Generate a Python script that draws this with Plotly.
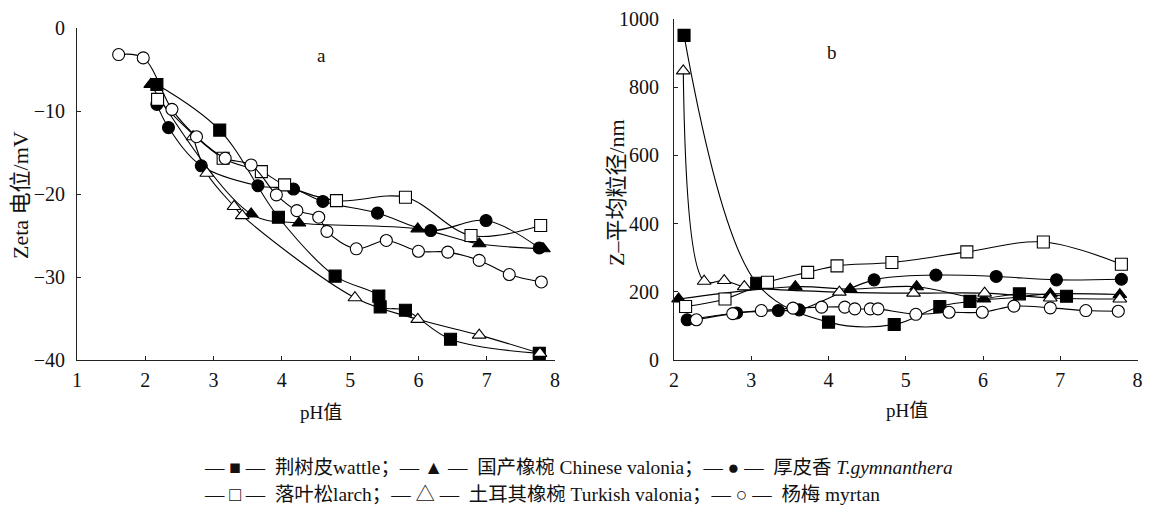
import plotly.graph_objects as go

W, H = 1151, 511
OFF = 8  # page body margin of the written HTML

# ---------- Panel a: Zeta potential (mV) vs pH ----------
a_wattle_x = [2.17, 3.09, 3.95, 4.78, 5.42, 5.44, 5.81, 6.47, 7.77]
a_wattle_y = [-6.8, -12.3, -22.8, -29.9, -32.3, -33.6, -34.0, -37.5, -39.2]
a_chinese_x = [2.08, 3.55, 4.25, 5.99, 6.89, 7.83]
a_chinese_y = [-6.8, -22.4, -23.5, -24.2, -26.0, -26.6]
a_tgym_x = [2.17, 2.34, 2.82, 3.65, 4.17, 4.60, 5.40, 6.18, 6.99, 7.77]
a_tgym_y = [-9.2, -12.0, -16.6, -19.0, -19.4, -20.9, -22.3, -24.4, -23.2, -26.5]
a_larch_x = [2.18, 3.14, 3.70, 4.04, 4.80, 5.81, 6.77, 7.79]
a_larch_y = [-8.6, -15.7, -17.3, -18.9, -20.8, -20.4, -25.0, -23.8]
a_turkish_x = [2.70, 2.90, 3.30, 3.42, 5.07, 5.99, 6.89, 7.78]
a_turkish_y = [-13.1, -17.5, -21.5, -22.6, -32.5, -35.1, -37.0, -39.2]
a_myrtan_x = [1.61, 1.97, 2.39, 2.75, 3.17, 3.55, 3.92, 4.22, 4.54, 4.66, 5.09, 5.53, 6.00, 6.43, 6.89, 7.33, 7.80]
a_myrtan_y = [-3.2, -3.6, -9.8, -13.1, -15.7, -16.5, -20.1, -22.0, -22.8, -24.5, -26.6, -25.6, -26.9, -27.0, -28.0, -29.7, -30.6]

# ---------- Panel b: Z-average particle size (nm) vs pH ----------
b_wattle_x = [2.13, 3.07, 4.00, 4.85, 5.44, 5.83, 6.47, 7.08]
b_wattle_y = [952, 225, 111, 104, 157, 172, 194, 187]
b_chinese_x = [2.06, 3.57, 4.28, 5.14, 6.01, 6.87, 7.77]
b_chinese_y = [179, 215, 208, 215, 179, 194, 192]
b_tgym_x = [2.17, 2.81, 3.35, 3.62, 4.59, 5.39, 6.17, 6.95, 7.79]
b_tgym_y = [118, 138, 145, 147, 235, 249, 245, 235, 237]
b_larch_x = [2.15, 2.66, 3.21, 3.73, 4.11, 4.82, 5.79, 6.78, 7.79]
b_larch_y = [157, 179, 228, 257, 276, 286, 317, 346, 281]
b_turkish_x = [2.12, 2.39, 2.65, 2.91, 4.14, 5.10, 6.02, 6.87, 7.77]
b_turkish_y = [848, 231, 233, 215, 199, 196, 196, 182, 179]
b_myrtan_x = [2.29, 2.76, 3.13, 3.54, 3.91, 4.21, 4.34, 4.54, 4.64, 5.13, 5.56, 5.99, 6.40, 6.87, 7.33, 7.75]
b_myrtan_y = [118, 136, 145, 152, 155, 155, 150, 150, 150, 134, 140, 140, 158, 153, 145, 143]

series_names = ["荆树皮wattle", "国产橡椀 Chinese valonia", "厚皮香 T.gymnanthera",
                "落叶松larch", "土耳其橡椀 Turkish valonia", "杨梅 myrtan"]
a_x_ticks = [1, 2, 3, 4, 5, 6, 7, 8]
a_y_ticks = [-40, -30, -20, -10, 0]
b_x_ticks = [2, 3, 4, 5, 6, 7, 8]
b_y_ticks = [0, 200, 400, 600, 800, 1000]

styles = [
    dict(symbol="square", color="black"),
    dict(symbol="triangle-up", color="black"),
    dict(symbol="circle", color="black"),
    dict(symbol="square", color="white"),
    dict(symbol="triangle-up", color="white"),
    dict(symbol="circle", color="white"),
]

a_data = [(a_wattle_x, a_wattle_y), (a_chinese_x, a_chinese_y), (a_tgym_x, a_tgym_y),
          (a_larch_x, a_larch_y), (a_turkish_x, a_turkish_y), (a_myrtan_x, a_myrtan_y)]
b_data = [(b_wattle_x, b_wattle_y), (b_chinese_x, b_chinese_y), (b_tgym_x, b_tgym_y),
          (b_larch_x, b_larch_y), (b_turkish_x, b_turkish_y), (b_myrtan_x, b_myrtan_y)]

fig = go.Figure()

def add_series(data, xa, ya):
    for (xs, ys), st, nm in zip(data, styles, series_names):
        fig.add_trace(go.Scatter(
            x=xs, y=ys, mode="lines+markers", name=nm, showlegend=False,
            xaxis=xa, yaxis=ya,
            line=dict(color="black", width=1.1, shape="spline", smoothing=1.0),
            marker=dict(symbol=st["symbol"], color=st["color"], size=12,
                        line=dict(color="black", width=1.1)),
            cliponaxis=False,
        ))

add_series(a_data, "x", "y")
add_series(b_data, "x2", "y2")

serif = '"Liberation Serif", "DejaVu Serif", serif'
cjk_serif = '"Liberation Serif", "Noto Sans CJK SC", serif'

def px_x(p):
    return (p - OFF) / W

def px_y(p):
    return 1 - (p - OFF) / H

axis_common = dict(showgrid=False, zeroline=False, showline=True, linecolor="#222",
                   linewidth=1, ticks="inside", ticklen=4, tickcolor="#222",
                   automargin=False, ticklabeloverflow="allow",
                   tickfont=dict(family=serif, size=20, color="#111"), fixedrange=True)

fig.update_layout(
    template="none",
    width=W, height=H, margin=dict(l=0, r=0, t=0, b=0, pad=0, autoexpand=False),
    paper_bgcolor="white", plot_bgcolor="white",
    xaxis=dict(domain=[px_x(77), px_x(555)], range=[1, 8], tickvals=a_x_ticks,
               anchor="y", ticklabelstandoff=2, **axis_common),
    yaxis=dict(domain=[px_y(360), px_y(28)], range=[-40, 0], tickvals=a_y_ticks,
               anchor="x", ticklabelstandoff=7, **axis_common),
    xaxis2=dict(domain=[px_x(674), px_x(1137.6)], range=[2, 8], tickvals=b_x_ticks,
                anchor="y2", ticklabelstandoff=2, **axis_common),
    yaxis2=dict(domain=[px_y(360), px_y(19)], range=[0, 1000], tickvals=b_y_ticks,
                anchor="x2", ticklabelstandoff=10, **axis_common),
)

ann = []
def add_text(text, x, y, size=19, angle=0, xanchor="center", family=cjk_serif):
    ann.append(dict(text=text, x=px_x(x), y=px_y(y), xref="paper", yref="paper",
                    showarrow=False, xanchor=xanchor, yanchor="middle", textangle=angle,
                    font=dict(family=family, size=size, color="#111")))

add_text("a", 321, 55, size=19)
add_text("b", 832, 52, size=19)
add_text("pH值", 321, 412)
add_text("pH值", 907, 410)
add_text("Zeta 电位/mV", 20, 195, angle=-90, size=22)
add_text("Z–平均粒径/nm", 617, 193, angle=-90, size=22)

leg1 = ("— ■ —  荆树皮wattle；— ▲ —  国产橡椀 Chinese valonia；— ● —  厚皮香 <i>T.gymnanthera</i>")
leg2 = ("— □ —  落叶松larch；— △ —  土耳其橡椀 Turkish valonia；— ○ —  杨梅 myrtan")
add_text(leg1, 202, 467, size=19.4, xanchor="left")
add_text(leg2, 202, 494, size=19.4, xanchor="left")

fig.update_layout(annotations=ann)

fig.write_html("out.html")
